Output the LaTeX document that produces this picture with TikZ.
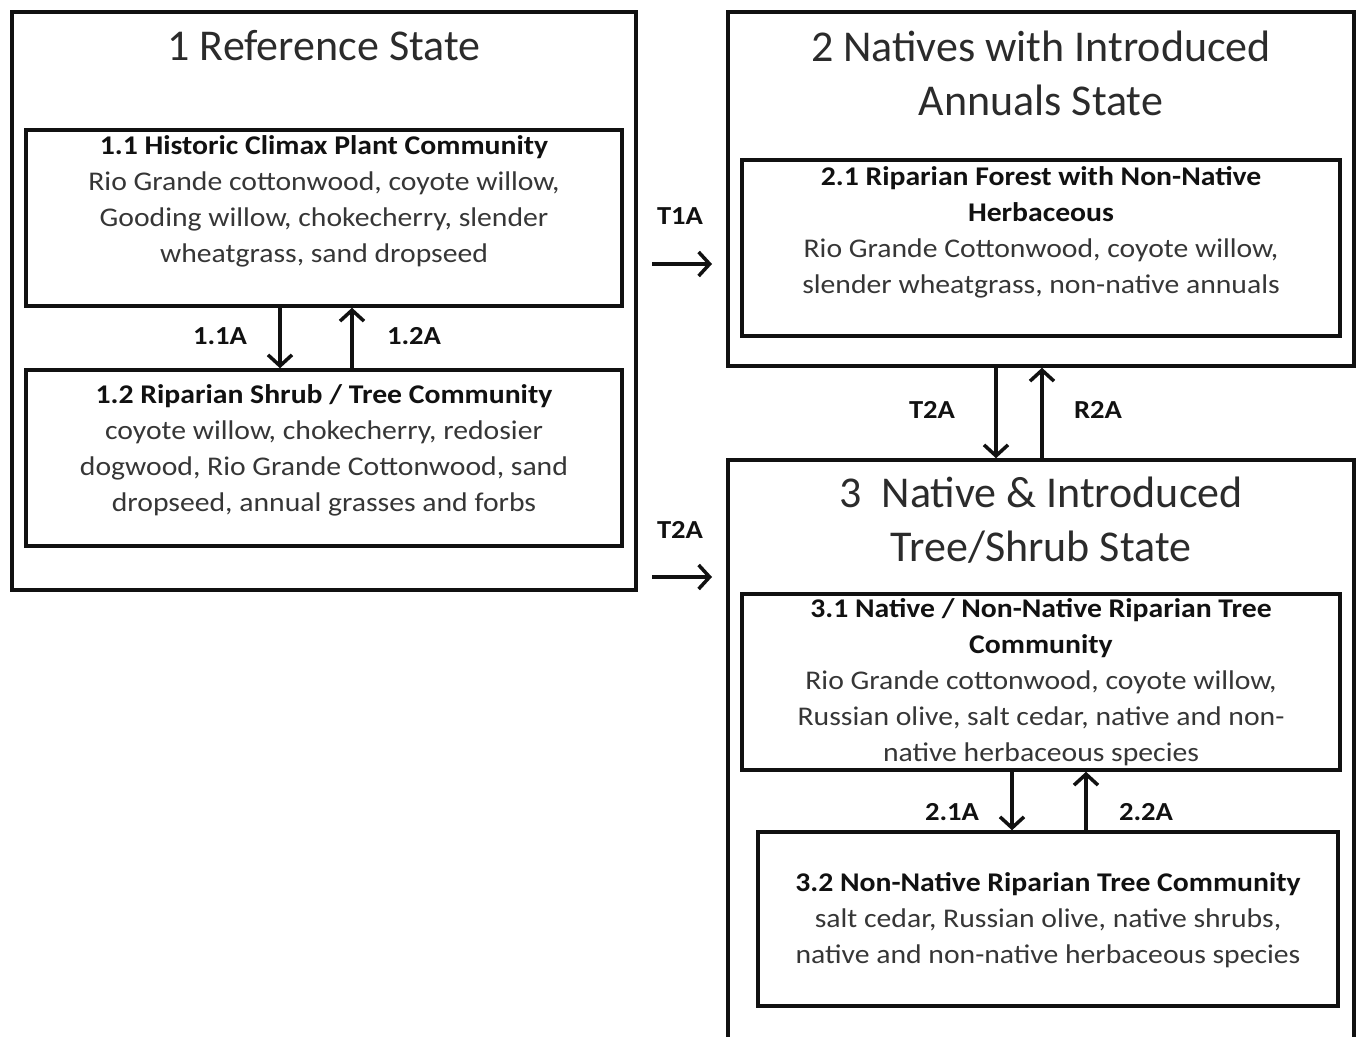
\documentclass[tikz,border=0pt]{standalone}
\usepackage{fontspec}
\setmainfont{Carlito}
\newfontfamily\bodyfont{Carlito}[FakeStretch=1.1]
\usepackage{xcolor}
\definecolor{ink}{HTML}{111111}
\definecolor{titlegray}{HTML}{2B2B2B}
\definecolor{txtgray}{HTML}{363636}
\usetikzlibrary{arrows.meta}

\begin{document}
\begin{tikzpicture}[x=1pt,y=-1pt,
  statebox/.style={draw=ink,line width=3.5pt,inner sep=0pt},
  commbox/.style={draw=ink,line width=3.5pt,inner sep=0pt},
  statetitle/.style={text=titlegray,align=center,font=\fontsize{44}{54}\selectfont},
  commtext/.style={text=txtgray,align=center,font=\bodyfont\fontsize{27}{36}\selectfont},
  lbl/.style={text=ink,font=\bodyfont\bfseries\fontsize{26}{28}\selectfont},
  arr/.style={-{Straight Barb[length=11pt,width=24pt]},line width=3.5pt,color=ink}]
\path[use as bounding box,clip] (0,0) rectangle (1362,1036);
% states
\node[statebox,minimum width=624pt,minimum height=578pt] (s1) at (324,301) {};
\node[statebox,minimum width=626pt,minimum height=354pt] (s2) at (1041,189) {};
\node[statebox,minimum width=626pt,minimum height=600pt] (s3) at (1041,760) {};
\node[statetitle] (s1t) at (324,46) {1 Reference State};
\node[statetitle] (s2t) at (1041,73) {2 Natives with Introduced\\Annuals State};
\node[statetitle] (s3t) at (1041,520) {3~~Native \& Introduced\\Tree/Shrub State};
% communities
\node[commbox,minimum width=596pt,minimum height=176pt] (c11) at (324,218) {};
\node[commbox,minimum width=596pt,minimum height=176pt] (c12) at (324,458) {};
\node[commbox,minimum width=598pt,minimum height=176pt] (c21) at (1041,248) {};
\node[commbox,minimum width=598pt,minimum height=176pt] (c31) at (1041,682) {};
\node[commbox,minimum width=580pt,minimum height=174pt] (c32) at (1048,919) {};
\node[commtext] (c11t) at (324,201) {\textcolor{ink}{\textbf{1.1 Historic Climax Plant Community}}\\
  Rio Grande cottonwood, coyote willow,\\Gooding willow, chokecherry, slender\\wheatgrass, sand dropseed};
\node[commtext] (c12t) at (324,450) {\textcolor{ink}{\textbf{1.2 Riparian Shrub / Tree Community}}\\
  coyote willow, chokecherry, redosier\\dogwood, Rio Grande Cottonwood, sand\\dropseed, annual grasses and forbs};
\node[commtext] (c21t) at (1041,232) {\textcolor{ink}{\textbf{2.1 Riparian Forest with Non-Native}}\\
  \textcolor{ink}{\textbf{Herbaceous}}\\Rio Grande Cottonwood, coyote willow,\\slender wheatgrass, non-native annuals};
\node[commtext] (c31t) at (1041,682) {\textcolor{ink}{\textbf{3.1 Native / Non-Native Riparian Tree}}\\
  \textcolor{ink}{\textbf{Community}}\\Rio Grande cottonwood, coyote willow,\\Russian olive, salt cedar, native and non-\\native herbaceous species};
\node[commtext] (c32t) at (1048,920) {\textcolor{ink}{\textbf{3.2 Non-Native Riparian Tree Community}}\\
  salt cedar, Russian olive, native shrubs,\\native and non-native herbaceous species};
% transitions
\coordinate (t1a-s) at (652,264); \coordinate (t1a-e) at (712,264);
\coordinate (t2a-s) at (652,577); \coordinate (t2a-e) at (712,577);
\draw[arr] (t1a-s) -- (t1a-e);
\draw[arr] (t2a-s) -- (t2a-e);
\node[lbl] (t1a) at (680,216) {T1A};
\node[lbl] (t2a) at (680,530) {T2A};
\draw[arr] ([xshift=-44pt]c11.south) -- ([xshift=-44pt]c12.north);
\draw[arr] ([xshift=28pt]c12.north) -- ([xshift=28pt]c11.south);
\node[lbl] (p11a) at (220,336) {1.1A};
\node[lbl] (p12a) at (414,336) {1.2A};
\draw[arr] ([xshift=-45pt]s2.south) -- ([xshift=-45pt]s3.north);
\draw[arr] ([xshift=1pt]s3.north) -- ([xshift=1pt]s2.south);
\node[lbl] (t2a2) at (932,410) {T2A};
\node[lbl] (r2a) at (1098,410) {R2A};
\draw[arr] ([xshift=-29pt]c31.south) -- ([xshift=-36pt]c32.north);
\draw[arr] ([xshift=38pt]c32.north) -- ([xshift=45pt]c31.south);
\node[lbl] (p21a) at (952,812) {2.1A};
\node[lbl] (p22a) at (1146,812) {2.2A};
\end{tikzpicture}
\end{document}
